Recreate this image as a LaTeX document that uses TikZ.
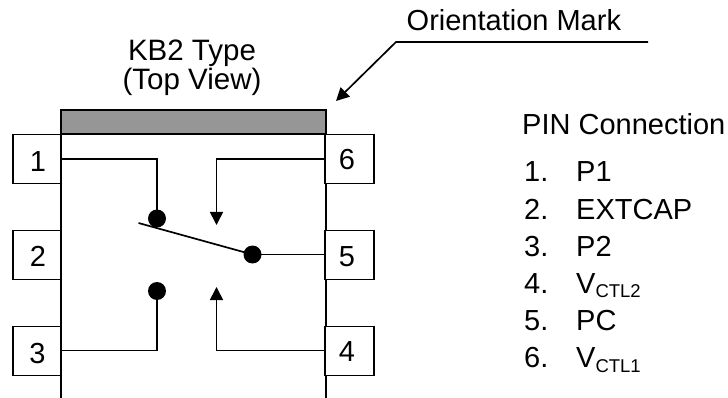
\documentclass[tikz,border=0pt]{standalone}
\usepackage{fontspec}
\setmainfont{Liberation Sans}
\usetikzlibrary{arrows.meta}
\tikzset{
  x=1pt,y=-1pt,
  wire/.style={draw=black,line width=1.7pt},
  pinbox/.style={draw=black,line width=1.7pt,fill=white,minimum width=48.5pt,minimum height=49pt,inner sep=0pt,font=\fontsize{29}{34}\selectfont},
  dotnode/.style={circle,fill=black,draw=none,minimum size=18pt,inner sep=0pt},
  txt/.style={inner sep=0pt,font=\fontsize{29}{34}\selectfont,anchor=base west},
  ttl/.style={inner sep=0pt,font=\fontsize{29.5}{34}\selectfont,anchor=base},
  tip/.style={-{Triangle[length=13pt,width=13pt]}}
}
\newcommand{\subs}[1]{\raisebox{-4.5pt}{\fontsize{18.5}{21}\selectfont #1}}
\begin{document}
\begin{tikzpicture}
\useasboundingbox (0,0) rectangle (728,398);
% body
\draw[wire,line width=2pt] (61,398) -- (61,110) -- (325.5,110) -- (325.5,398);
\node[draw=black,line width=2pt,fill=black!41!white,minimum width=264.5pt,minimum height=24.5pt,inner sep=0pt,outer sep=0pt,anchor=north west] (band) at (61,110) {};
% pins
\node[pinbox] (p1) at (37,159) {};
\node[pinbox] (p2) at (37,255) {};
\node[pinbox] (p3) at (37,351) {};
\node[pinbox] (p4) at (349.5,351) {};
\node[pinbox] (p5) at (349.5,255) {};
\node[pinbox] (p6) at (349.5,159) {};
\node[txt,anchor=base] (n1) at (38,171.5) {1};
\node[txt,anchor=base] (n2) at (38,266.5) {2};
\node[txt,anchor=base] (n3) at (37.5,363) {3};
\node[txt,anchor=base] (n4) at (347,361.5) {4};
\node[txt,anchor=base] (n5) at (347,266.5) {5};
\node[txt,anchor=base] (n6) at (347,170) {6};
% dots
\node[dotnode] (d1) at (157,218.5) {};
\node[dotnode] (d3) at (157,291) {};
\node[dotnode] (d5) at (252.5,254.5) {};
\coordinate (sw) at (138.5,223);
\coordinate (a6) at (216.5,225);
\coordinate (a4) at (216.5,287);
% wires
\draw[wire] (p1.east |- 0,159) -- (157,159) -- (d1.center);
\draw[wire] (p3.east |- 0,350.5) -- (157,350.5) -- (d3.center);
\draw[wire] (sw) -- (d5.center);
\draw[wire] (d5.center) -- (p5.west |- d5.center);
\draw[wire,tip] (p6.west |- 0,159) -- (216.5,159) -- (a6);
\draw[wire,tip] (p4.west |- 0,350.5) -- (216.5,350.5) -- (a4);
% orientation mark
\coordinate (m1) at (648,42);
\coordinate (m2) at (396,42);
\coordinate (m3) at (336,101);
\draw[wire,tip] (m1) -- (m2) -- (m3);
% labels
\node[txt] (om) at (406.5,31) {Orientation Mark};
\node[ttl] (t1) at (192,61) {KB2 Type};
\node[ttl] (t2) at (192,90) {(Top View)};
\node[txt] (pc) at (522,135) {PIN Connection};
\node[txt] (l1) at (524,182) {1.};
\node[txt] (l2) at (524,219) {2.};
\node[txt] (l3) at (524,256) {3.};
\node[txt] (l4) at (524,293) {4.};
\node[txt] (l5) at (524,330) {5.};
\node[txt] (l6) at (524,367.5) {6.};
\node[txt] (v1) at (576,182) {P1};
\node[txt] (v2) at (576,219) {EXTCAP};
\node[txt] (v3) at (576,256) {P2};
\node[txt] (v4) at (576,293) {V\subs{CTL2}};
\node[txt] (v5) at (576,330) {PC};
\node[txt] (v6) at (576,367.5) {V\subs{CTL1}};
\end{tikzpicture}
\end{document}
